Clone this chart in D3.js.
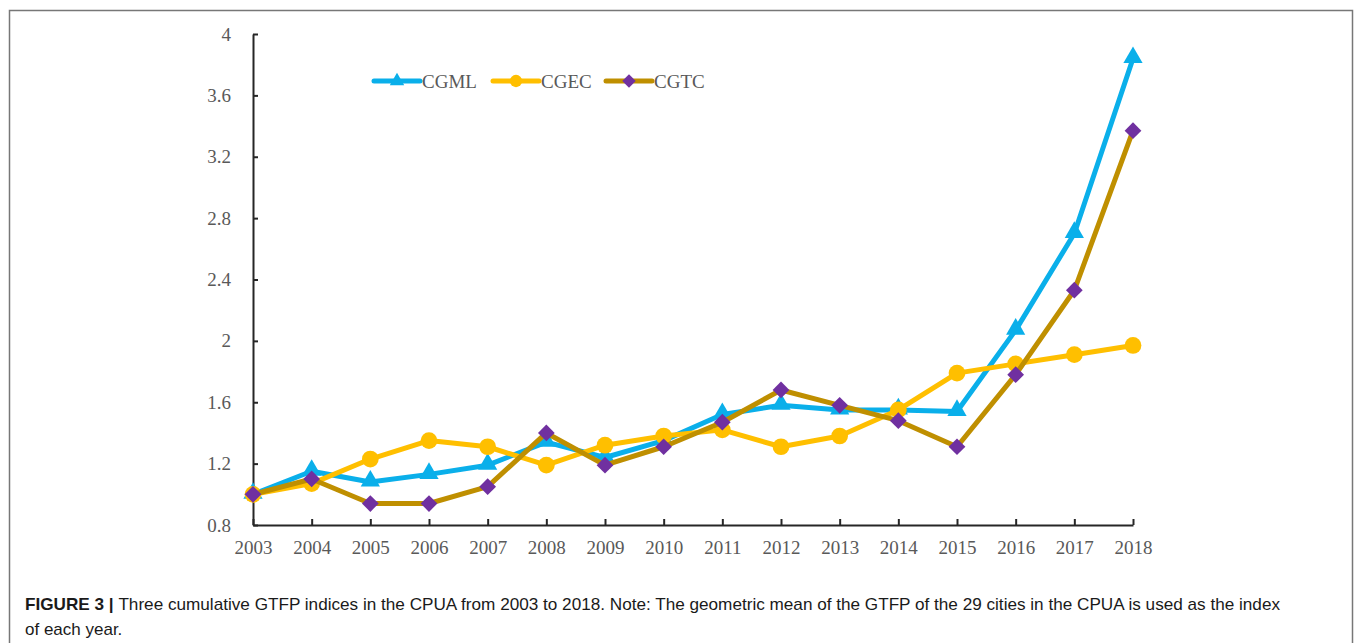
<!DOCTYPE html>
<html>
<head>
<meta charset="utf-8">
<script src="https://cdn.jsdelivr.net/npm/d3@7"></script>
<style>
  body { margin: 0; background: #fff; }
  svg text { font-family: "Liberation Serif", "DejaVu Serif", serif; }
</style>
</head>
<body>
<div id="chart"></div>
<script>
(function(){

  var width = 1355;
  var height = 643;

  var years = [2003, 2004, 2005, 2006, 2007, 2008, 2009, 2010, 2011, 2012, 2013, 2014, 2015, 2016, 2017, 2018];
  var cgml = [1.00, 1.15, 1.08, 1.13, 1.19, 1.34, 1.24, 1.35, 1.52, 1.58, 1.55, 1.55, 1.54, 2.07, 2.70, 3.84];
  var cgec = [1.00, 1.07, 1.23, 1.35, 1.31, 1.19, 1.32, 1.38, 1.42, 1.31, 1.38, 1.55, 1.79, 1.85, 1.91, 1.97];
  var cgtc = [1.00, 1.10, 0.94, 0.94, 1.05, 1.40, 1.19, 1.31, 1.47, 1.68, 1.58, 1.48, 1.31, 1.78, 2.33, 3.37];
  var yTicks = [0.8, 1.2, 1.6, 2, 2.4, 2.8, 3.2, 3.6, 4];

  var series = [
    { name: 'CGML', values: cgml, line: '#0AAFEA', marker: 'triangle', fill: '#0AAFEA' },
    { name: 'CGEC', values: cgec, line: '#FFBF00', marker: 'circle', fill: '#FFBF00' },
    { name: 'CGTC', values: cgtc, line: '#BF8F00', marker: 'diamond', fill: '#7030A0' }
  ];

  var svg = d3.select('#chart')
      .append('svg')
      .attr('width', width)
      .attr('height', height);

  // outer frame
  svg.append('rect')
      .attr('x', 9.5).attr('y', 10.5)
      .attr('width', 1343).attr('height', 700)
      .attr('fill', 'none')
      .attr('stroke', '#777')
      .attr('stroke-width', 1.5);

  var x = d3.scalePoint()
      .domain(years)
      .range([253, 1133]);

  var y = d3.scaleLinear()
      .domain([0.8, 4])
      .range([525, 34]);

  // axes
  var xAxis = svg.append('g')
      .attr('transform', 'translate(0,525)')
      .call(d3.axisBottom(x).tickSize(-6).tickSizeOuter(0).tickPadding(16));
  var yAxis = svg.append('g')
      .attr('transform', 'translate(253,0)')
      .call(d3.axisLeft(y).tickValues(yTicks).tickSize(-5).tickSizeOuter(0).tickPadding(22)
        .tickFormat(function(d){ return d3.format('')(d); }));

  [xAxis, yAxis].forEach(function(g){
    g.select('.domain').attr('stroke', '#262626').attr('stroke-width', 2);
    g.selectAll('.tick line').attr('stroke', '#262626').attr('stroke-width', 2);
    g.selectAll('.tick text')
      .attr('fill', '#595959')
      .attr('font-size', '19px')
      .attr('font-family', '"Liberation Serif", serif');
  });
  xAxis.selectAll('.tick line').attr('y2', -6);
  yAxis.selectAll('.tick line').attr('x2', 5);

  var line = d3.line()
      .x(function(d, i){ return x(years[i]); })
      .y(function(d){ return y(d); });

  var symbolFor = {
    triangle: d3.symbol().type(d3.symbolTriangle).size(160),
    circle: d3.symbol().type(d3.symbolCircle).size(220),
    diamond: d3.symbol().type(d3.symbolSquare).size(140)
  };

  series.forEach(function(s){
    var g = svg.append('g');
    g.append('path')
      .datum(s.values)
      .attr('d', line)
      .attr('fill', 'none')
      .attr('stroke', s.line)
      .attr('stroke-width', 5)
      .attr('stroke-linejoin', 'round');

    g.selectAll('path.mark')
      .data(s.values)
      .enter()
      .append('path')
        .attr('class', 'mark')
        .attr('d', symbolFor[s.marker])
        .attr('transform', function(d, i){
          var t = 'translate(' + x(years[i]) + ',' + y(d) + ')';
          if (s.marker === 'triangle') t += ' translate(0,-1)';
          if (s.marker === 'diamond') t += ' rotate(45)';
          return t;
        })
        .attr('fill', s.fill);
  });

  // legend
  var legendX = [374, 493, 606];
  var legend = svg.selectAll('g.legend')
      .data(series)
      .enter()
      .append('g')
        .attr('class', 'legend')
        .attr('transform', function(d, i){ return 'translate(' + legendX[i] + ',81)'; });

  legend.append('line')
      .attr('x1', 0).attr('x2', 46)
      .attr('stroke', function(d){ return d.line; })
      .attr('stroke-width', 5)
      .attr('stroke-linecap', 'round');
  legend.append('path')
      .attr('d', function(d){
        return d3.symbol().type(d.marker === 'triangle' ? d3.symbolTriangle : d.marker === 'circle' ? d3.symbolCircle : d3.symbolSquare)
          .size(d.marker === 'circle' ? 120 : 90)();
      })
      .attr('transform', function(d){ return 'translate(23,0)' + (d.marker === 'diamond' ? ' rotate(45)' : ''); })
      .attr('fill', function(d){ return d.fill; });
  legend.append('text')
      .attr('x', 48)
      .attr('y', 6.5)
      .attr('fill', '#595959')
      .attr('font-size', '19px')
      .text(function(d){ return d.name; });

  // caption
  var cap = svg.append('text')
      .attr('x', 25)
      .attr('y', 610)
      .attr('font-size', '17px')
      .attr('fill', '#1a1a1a')
      .attr('textLength', 1255)
      .attr('lengthAdjust', 'spacingAndGlyphs')
      .style('font-family', '"Liberation Sans Narrow", "Liberation Sans", sans-serif');
  cap.append('tspan').attr('font-weight', 'bold').text('FIGURE 3 | ');
  cap.append('tspan').text('Three cumulative GTFP indices in the CPUA from 2003 to 2018. Note: The geometric mean of the GTFP of the 29 cities in the CPUA is used as the index');
  svg.append('text')
      .attr('x', 25)
      .attr('y', 635)
      .attr('font-size', '17px')
      .attr('fill', '#1a1a1a')
      .style('font-family', '"Liberation Sans Narrow", "Liberation Sans", sans-serif')
      .text('of each year.');

})();
</script>
</body>
</html>
